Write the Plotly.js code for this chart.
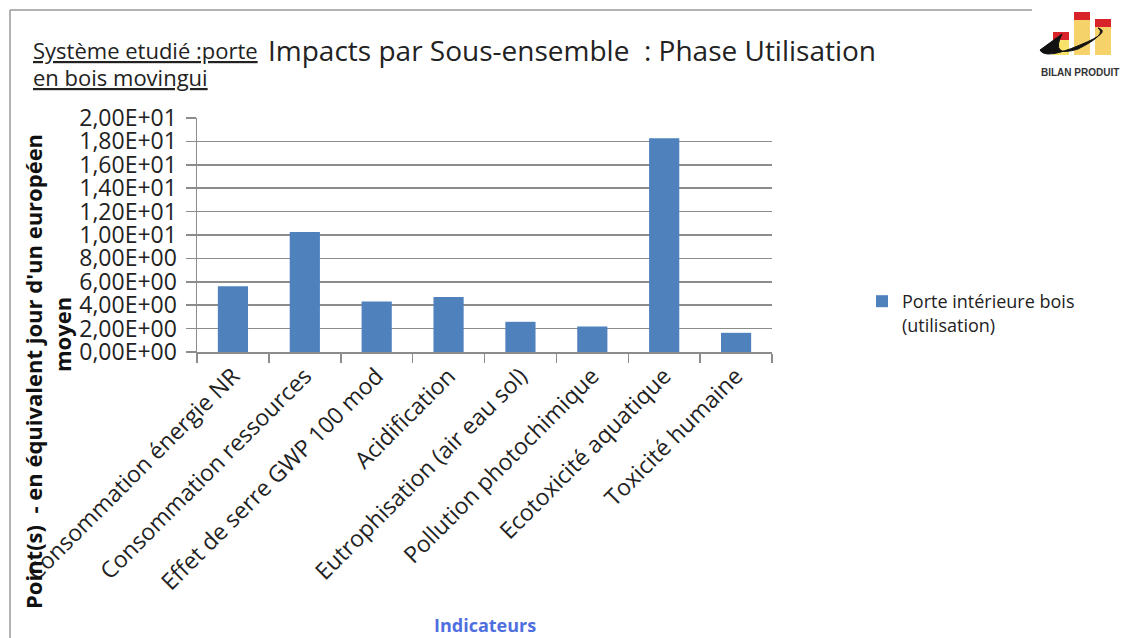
<!DOCTYPE html>
<html>
<head>
<meta charset="utf-8">
<script src="https://cdn.plot.ly/plotly-3.0.1.min.js"></script>
<style>html,body{margin:0;padding:0;background:#fff;}#chart{width:1122px;height:638px;}</style>
</head>
<body>
<div id="chart"></div>
<script>
const categories = [
  "Consommation énergie NR",
  "Consommation ressources",
  "Effet de serre GWP 100 mod",
  "Acidification",
  "Eutrophisation (air eau sol)",
  "Pollution photochimique",
  "Ecotoxicité aquatique",
  "Toxicité humaine"
];
const values = [5.62, 10.26, 4.32, 4.70, 2.58, 2.18, 18.27, 1.64];
const seriesName = "Porte intérieure bois<br>(utilisation)";
const yTickVals = [0, 2, 4, 6, 8, 10, 12, 14, 16, 18, 20];
const yTickText = ["0,00E+00","2,00E+00","4,00E+00","6,00E+00","8,00E+00","1,00E+01","1,20E+01","1,40E+01","1,60E+01","1,80E+01","2,00E+01"];

const W = 1122, H = 638;
const L = 197, R = 772, T = 118, B = 352;
const px = x => (x - L) / (R - L);
const py = y => (B - y) / (B - T);
const FONT = "Open Sans, Noto Sans, sans-serif";

const trace = {
  type: "bar",
  x: categories,
  y: values,
  name: seriesName,
  marker: {color: "#4F81BD"},
  showlegend: true
};

const shapes = [
  // outer frame
  {type: "line", xref: "paper", yref: "paper", x0: px(10), x1: px(1032), y0: py(10), y1: py(10), line: {color: "#9a9a9a", width: 1.5}},
  {type: "line", xref: "paper", yref: "paper", x0: px(10), x1: px(10), y0: py(10), y1: py(638), line: {color: "#9a9a9a", width: 1.5}},
  // logo bars
  {type: "rect", xref: "paper", yref: "paper", x0: px(1053), x1: px(1069), y0: py(55), y1: py(40), fillcolor: "#F7E36B", line: {width: 0}},
  {type: "rect", xref: "paper", yref: "paper", x0: px(1053), x1: px(1069), y0: py(40), y1: py(32), fillcolor: "#D9232A", line: {width: 0}},
  {type: "rect", xref: "paper", yref: "paper", x0: px(1074), x1: px(1090), y0: py(55), y1: py(20), fillcolor: "#F5D36A", line: {width: 0}},
  {type: "rect", xref: "paper", yref: "paper", x0: px(1074), x1: px(1090), y0: py(20), y1: py(12), fillcolor: "#D9232A", line: {width: 0}},
  {type: "rect", xref: "paper", yref: "paper", x0: px(1095), x1: px(1111), y0: py(55), y1: py(27), fillcolor: "#F5D36A", line: {width: 0}},
  {type: "rect", xref: "paper", yref: "paper", x0: px(1095), x1: px(1111), y0: py(27), y1: py(19), fillcolor: "#D9232A", line: {width: 0}},
  {type: "path", xref: "paper", yref: "paper",
   path: "M " + px(1040) + "," + py(50) + " Q " + px(1045) + "," + py(60) + " " + px(1080) + "," + py(45) +
         " Q " + px(1112) + "," + py(32) + " " + px(1098) + "," + py(28) +
         " Q " + px(1108) + "," + py(34) + " " + px(1078) + "," + py(49) +
         " Q " + px(1050) + "," + py(58) + " " + px(1062) + "," + py(34) + " Z",
   fillcolor: "#111", line: {color: "#111", width: 1}}
];

const annotations = [
  {xref: "paper", yref: "paper", x: px(31), y: py(50), xanchor: "left", yanchor: "middle", showarrow: false,
   text: "<span style='text-decoration:underline'>Système etudié :porte</span>", font: {family: FONT, size: 22, color: "#222"}},
  {xref: "paper", yref: "paper", x: px(31), y: py(77), xanchor: "left", yanchor: "middle", showarrow: false,
   text: "<span style='text-decoration:underline'>en bois movingui</span>", font: {family: FONT, size: 22, color: "#222"}},
  {xref: "paper", yref: "paper", x: px(266), y: py(50), xanchor: "left", yanchor: "middle", showarrow: false,
   text: "Impacts par Sous-ensemble  : Phase Utilisation", font: {family: FONT, size: 28, color: "#222"}},
  {xref: "paper", yref: "paper", x: px(33), y: py(372), xanchor: "center", yanchor: "middle", showarrow: false, textangle: -90,
   text: "<b>Point(s)  - en équivalent jour d'un européen</b>", font: {family: FONT, size: 22, color: "#111"}},
  {xref: "paper", yref: "paper", x: px(62), y: py(335), xanchor: "center", yanchor: "middle", showarrow: false, textangle: -90,
   text: "<b>moyen</b>", font: {family: FONT, size: 22, color: "#111"}},
  {xref: "paper", yref: "paper", x: px(485), y: py(625), xanchor: "center", yanchor: "middle", showarrow: false,
   text: "<b>Indicateurs</b>", font: {family: FONT, size: 18, color: "#4F6FE0"}},
  {xref: "paper", yref: "paper", x: px(1080), y: py(72), xanchor: "center", yanchor: "middle", showarrow: false,
   text: "<b>BILAN PRODUIT</b>", font: {family: "Liberation Sans Narrow, Liberation Sans, sans-serif", size: 10, color: "#333"}}
];

const layout = {
  width: W, height: H,
  margin: {l: L, r: W - R, t: T, b: H - B, pad: 0},
  paper_bgcolor: "#fff",
  plot_bgcolor: "#fff",
  bargap: 0.58,
  font: {family: FONT, color: "#222"},
  xaxis: {
    type: "category",
    tickangle: -45,
    tickfont: {family: FONT, size: 23, color: "#222"},
    showline: true, linecolor: "#8c8c8c", linewidth: 1.5,
    ticks: "outside", tickson: "boundaries", ticklen: 9, tickcolor: "#8c8c8c", tickwidth: 1.5,
    showgrid: false, zeroline: false, fixedrange: true
  },
  yaxis: {
    range: [0, 20],
    tickvals: yTickVals, ticktext: yTickText,
    tickfont: {family: FONT, size: 23, color: "#222"},
    showline: true, linecolor: "#8c8c8c", linewidth: 1.5,
    ticks: "outside", ticklen: 10, tickcolor: "#8c8c8c", tickwidth: 1.5,
    ticklabelstandoff: 4,
    showgrid: true, gridcolor: "#8c8c8c", gridwidth: 1.5,
    zeroline: false, fixedrange: true
  },
  legend: {
    x: px(862), y: py(283), xanchor: "left", yanchor: "top",
    font: {family: FONT, size: 18, color: "#222"},
    bgcolor: "rgba(0,0,0,0)", itemwidth: 30, traceorder: "normal", valign: "top"
  },
  shapes: shapes,
  annotations: annotations
};

Plotly.newPlot("chart", [trace], layout, {displayModeBar: false, staticPlot: true});
</script>
</body>
</html>
